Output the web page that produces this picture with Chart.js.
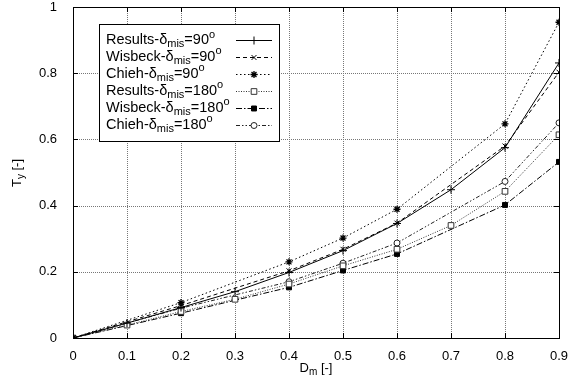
<!DOCTYPE html>
<html><head><meta charset="utf-8">
<script src="https://cdn.jsdelivr.net/npm/chart.js@4/dist/chart.umd.min.js"></script>
<style>html,body{margin:0;padding:0;background:#fff}#wrap{width:569px;height:383px}</style>
</head><body><div id="wrap"><canvas id="c" width="569" height="383"></canvas></div>
<script>
// ---- data ----
const xFull = [0, 0.1, 0.2, 0.3, 0.4, 0.5, 0.6, 0.7, 0.8, 0.9];
const xSparse = [0, 0.2, 0.4, 0.5, 0.6, 0.8, 0.9];
const results90 = [0, 0.045, 0.092, 0.140, 0.198, 0.264, 0.346, 0.448, 0.575, 0.831];
const wisbeck90 = [0, 0.098, 0.203, 0.268, 0.347, 0.580, 0.803];
const chieh90   = [0, 0.107, 0.230, 0.302, 0.389, 0.647, 0.954];
const results180 = [0, 0.039, 0.080, 0.117, 0.163, 0.218, 0.268, 0.340, 0.443, 0.614];
const wisbeck180 = [0, 0.075, 0.153, 0.204, 0.254, 0.402, 0.532];
const chieh180   = [0, 0.090, 0.170, 0.226, 0.287, 0.473, 0.650];
const xTicks = [0, 0.1, 0.2, 0.3, 0.4, 0.5, 0.6, 0.7, 0.8, 0.9];
const yTicks = [0, 0.2, 0.4, 0.6, 0.8, 1];
const legendNames = ['Results', 'Wisbeck', 'Chieh', 'Results', 'Wisbeck', 'Chieh'];
const legendAngles = ['90', '90', '90', '180', '180', '180'];

const FONT = '"Liberation Sans", Arial, sans-serif';
const pts = (xs, ys) => xs.map((x, i) => ({x: x, y: ys[i]}));

const styles = [
  {dash: [], pointStyle: 'cross', radius: 4, fill: '#000', color: '#000', bw: 1},
  {dash: [4, 3], pointStyle: 'crossRot', radius: 3.5, fill: '#000', color: '#000', bw: 1},
  {dash: [1.5, 2.5], pointStyle: 'star', radius: 3.5, fill: '#000', color: '#000', bw: 1.3},
  {dash: [1, 1.5], pointStyle: 'rect', radius: 4, fill: '#fff', color: '#333', bw: 1},
  {dash: [6, 2, 1.5, 2], pointStyle: 'rect', radius: 3.5, fill: '#000', color: '#000', bw: 1},
  {dash: [4, 2, 1.5, 2, 1.5, 2], pointStyle: 'circle', radius: 3, fill: '#fff', color: '#222', bw: 1}
];
const seriesData = [pts(xFull, results90), pts(xSparse, wisbeck90), pts(xSparse, chieh90),
                    pts(xFull, results180), pts(xSparse, wisbeck180), pts(xSparse, chieh180)];

const datasets = seriesData.map((d, i) => ({
  label: legendNames[i] + '-δmis=' + legendAngles[i] + '°',
  data: d,
  borderColor: styles[i].color,
  borderWidth: 1,
  borderDash: styles[i].dash,
  pointStyle: styles[i].pointStyle,
  pointRadius: styles[i].radius,
  pointBorderWidth: styles[i].bw,
  pointBackgroundColor: styles[i].fill,
  pointBorderColor: styles[i].color,
  tension: 0,
  fill: false
}));

function drawRich(ctx, parts, x, y, size, align) {
  let w = 0;
  const fonts = parts.map(p => (p[1] ? Math.round(size * 0.75) : size) + 'px ' + FONT);
  parts.forEach((p, i) => { ctx.font = fonts[i]; w += ctx.measureText(p[0]).width; });
  let cx = align === 'center' ? x - w / 2 : x;
  ctx.textBaseline = 'middle';
  ctx.textAlign = 'left';
  parts.forEach((p, i) => {
    ctx.font = fonts[i];
    const dy = p[1] === 1 ? size * 0.3 : (p[1] === 2 ? -size * 0.38 : 0);
    ctx.fillText(p[0], cx, y + dy);
    cx += ctx.measureText(p[0]).width;
  });
}

function drawGrid(chart) {
  const ctx = chart.ctx, a = chart.chartArea;
  const xs = chart.scales.x, ys = chart.scales.y;
  ctx.save();
  ctx.fillStyle = '#777';
  const L = Math.round(a.left), R = Math.round(a.right), T = Math.round(a.top), B = Math.round(a.bottom);
  xTicks.forEach(t => {
    const px = Math.round(xs.getPixelForValue(t));
    for (let y = T; y <= B; y += 2) ctx.fillRect(px, y, 1, 1);
  });
  yTicks.forEach(t => {
    const py = Math.round(ys.getPixelForValue(t));
    for (let x = L; x <= R; x += 2) ctx.fillRect(x, py, 1, 1);
  });
  ctx.restore();
}

const gridPlugin = {
  id: 'gridPlugin',
  beforeDatasetsDraw(chart) { drawGrid(chart); }
};

const decor = {
  id: 'decor',
  afterDraw(chart) {
    const ctx = chart.ctx;
    const a = chart.chartArea;
    ctx.save();
    ctx.setLineDash([]);
    ctx.strokeStyle = '#000';
    ctx.lineWidth = 1;
    ctx.strokeRect(Math.round(a.left) + 0.5, Math.round(a.top) + 0.5, Math.round(a.right - a.left), Math.round(a.bottom - a.top));
    const xs = chart.scales.x, ys = chart.scales.y;
    ctx.beginPath();
    xTicks.forEach(t => { const px = Math.round(xs.getPixelForValue(t)) + 0.5;
      ctx.moveTo(px, a.bottom); ctx.lineTo(px, a.bottom - 5); ctx.moveTo(px, a.top); ctx.lineTo(px, a.top + 5); });
    yTicks.forEach(t => { const py = Math.round(ys.getPixelForValue(t)) + 0.5;
      ctx.moveTo(a.left, py); ctx.lineTo(a.left + 5, py); ctx.moveTo(a.right, py); ctx.lineTo(a.right - 5, py); });
    ctx.stroke();
    ctx.fillStyle = '#000';
    drawRich(ctx, [['D', 0], ['m', 1], [' [-]', 0]], (a.left + a.right) / 2, 368, 13, 'center');
    ctx.save();
    ctx.translate(17, 173);
    ctx.rotate(-Math.PI / 2);
    drawRich(ctx, [['T', 0], ['y', 1], [' [-]', 0]], 0, 0, 13, 'center');
    ctx.restore();
    // legend
    const lx = 99, ly = 24, lw = 180, lh = 117;
    ctx.fillStyle = '#fff';
    ctx.fillRect(lx, ly, lw, lh);
    ctx.strokeStyle = '#000';
    ctx.lineWidth = 1;
    ctx.strokeRect(lx + 0.5, ly + 0.5, lw, lh);
    for (let i = 0; i < 6; i++) {
      const ry = 40 + i * 16.9;
      ctx.fillStyle = '#000';
      drawRich(ctx, [[legendNames[i] + '-δ', 0], ['mis', 1], ['=' + legendAngles[i], 0], ['o', 2]], 106, ry, 14.5, 'left');
      const s = styles[i];
      ctx.save();
      ctx.strokeStyle = s.color;
      ctx.lineWidth = 1;
      ctx.setLineDash(s.dash);
      ctx.beginPath();
      ctx.moveTo(236, Math.round(ry) + 0.5);
      ctx.lineTo(272, Math.round(ry) + 0.5);
      ctx.stroke();
      ctx.setLineDash([]);
      ctx.fillStyle = s.fill;
      ctx.strokeStyle = s.color;
      ctx.lineWidth = s.bw;
      Chart.helpers.drawPoint(ctx, {pointStyle: s.pointStyle, radius: s.radius, rotation: 0, borderWidth: s.bw}, 254, Math.round(ry) + 0.5);
      ctx.restore();
    }
    ctx.restore();
  }
};

new Chart(document.getElementById('c'), {
  type: 'line',
  data: {datasets: datasets},
  plugins: [gridPlugin, decor],
  options: {
    responsive: false,
    animation: false,
    devicePixelRatio: 1,
    layout: {padding: {top: 7, right: 10, left: 0, bottom: 0}},
    plugins: {legend: {display: false}, tooltip: {enabled: false}},
    scales: {
      x: {
        type: 'linear', min: 0, max: 0.9,
        afterBuildTicks: s => { s.ticks = xTicks.map(v => ({value: v})); },
        afterFit: s => { s.height = 45; s.paddingLeft = 0; s.paddingRight = 0; },
        ticks: {color: '#000', font: {size: 13, family: FONT}, padding: 3,
                callback: v => String(Math.round(v * 10) / 10)},
        grid: {display: false},
        border: {display: false}
      },
      y: {
        type: 'linear', min: 0, max: 1,
        afterBuildTicks: s => { s.ticks = yTicks.map(v => ({value: v})); },
        afterFit: s => { s.width = 73; s.paddingTop = 0; s.paddingBottom = 0; },
        ticks: {color: '#000', font: {size: 13, family: FONT}, padding: 8,
                callback: v => String(Math.round(v * 10) / 10)},
        grid: {display: false},
        border: {display: false}
      }
    }
  }
});
</script>
</body></html>
